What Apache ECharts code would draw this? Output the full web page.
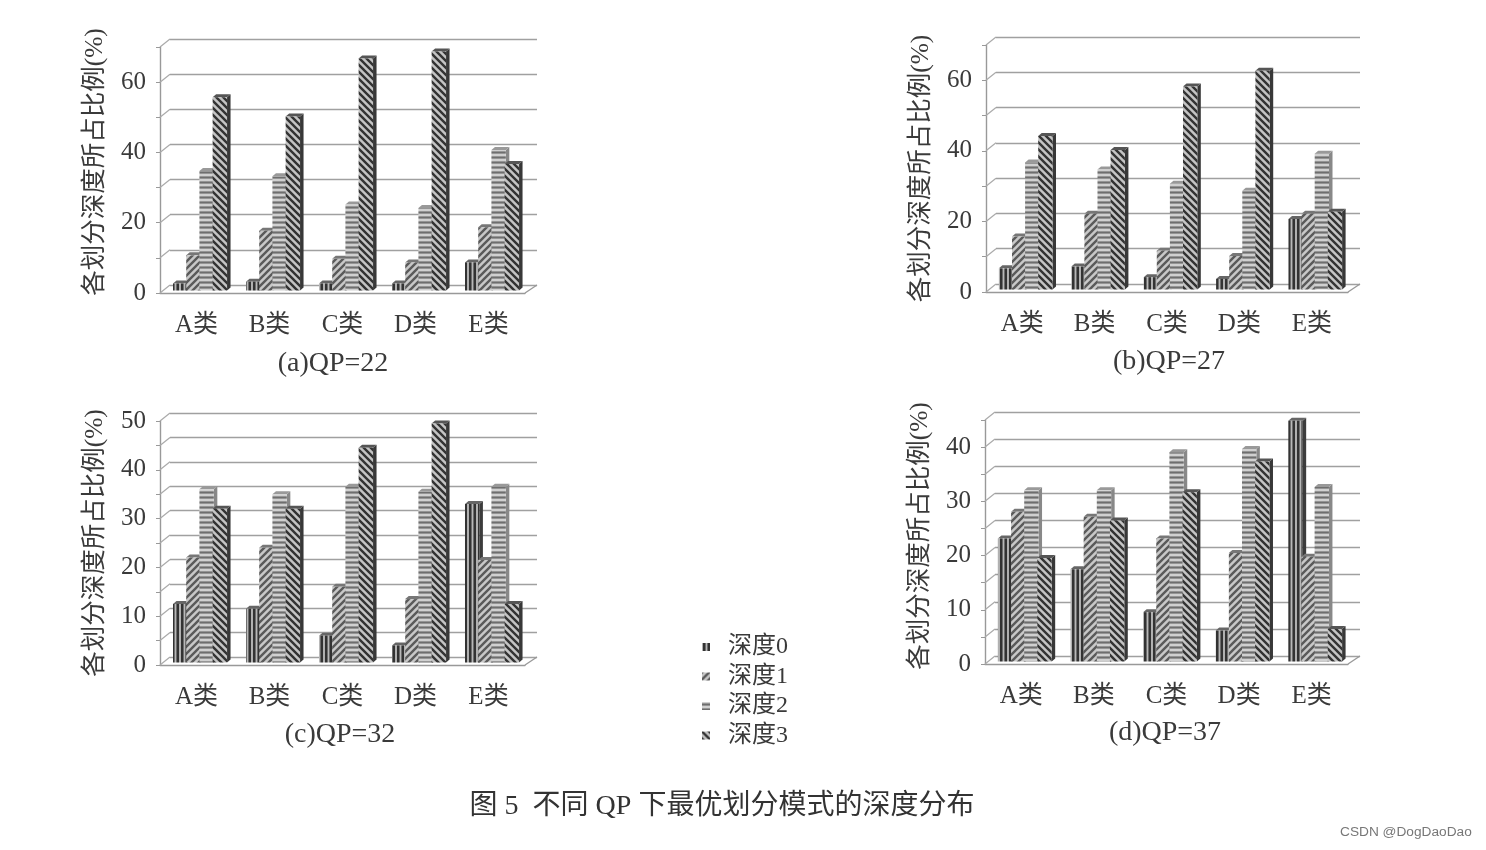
<!DOCTYPE html>
<html><head><meta charset="utf-8"><style>html,body{margin:0;background:#fff}#c{width:1486px;height:850px;filter:blur(0.4px)}</style>
<script src="https://cdn.jsdelivr.net/npm/echarts@6/dist/echarts.min.js"></script></head>
<body><div id="c"></div><script>
const categories=['A类','B类','C类','D类','E类'];
const depths=['深度0','深度1','深度2','深度3'];
const a0=[2,2.5,2,2,8], a1=[10,17,9,8,18], a2=[34,32.5,24.5,23.5,40], a3=[55,49.5,66,68,36];
const b0=[6,6.5,3.5,3,20], b1=[15,21.5,11,9.5,21.5], b2=[36,34,30,28,38.5], b3=[43.5,39.5,57.5,62,22];
const c0=[12,11,5.5,3.5,32.5], c1=[21.5,23.5,15.5,13,21], c2=[35.5,34.5,36,35,36], c3=[31.5,31.5,44,49,12];
const d0=[22.7,17,9.1,5.7,44.4], d1=[27.6,26.7,22.7,20,19.3], d2=[31.6,31.6,38.6,39.2,32.2], d3=[19.1,26,31.2,36.9,6];
const ticksAB=[0,10,20,30,40,50,60,70], ticksC=[0,5,10,15,20,25,30,35,40,45,50], ticksD=[0,5,10,15,20,25,30,35,40,45];
const labelsAB=[0,20,40,60], labelsCD=[0,10,20,30,40,50];
const FONT='"Liberation Serif","Noto Sans CJK SC",serif', INK='#3a3a3a';
const panels=[
 {t:'(a)QP=22',s:[a0,a1,a2,a3],ticks:ticksAB,labels:labelsAB,step:10,max:70,x0:160,x1:525,y0:293,yt:47,tx:333,ty:362,nameShift:16},
 {t:'(b)QP=27',s:[b0,b1,b2,b3],ticks:ticksAB,labels:labelsAB,step:10,max:70,x0:986,x1:1348,y0:292,yt:45,tx:1169,ty:360,nameShift:0},
 {t:'(c)QP=32',s:[c0,c1,c2,c3],ticks:ticksC,labels:labelsCD,step:5,max:50,x0:160,x1:525,y0:665,yt:421,tx:340,ty:733,nameShift:0},
 {t:'(d)QP=37',s:[d0,d1,d2,d3],ticks:ticksD,labels:labelsCD,step:5,max:45,x0:985,x1:1348,y0:664,yt:420,tx:1165,ty:731,nameShift:12}
];
function pat(kind,fg,bg){
 const flat=kind==='h'||kind==='v',S=flat?(kind==='v'?9:5):7,cv=document.createElement('canvas');cv.width=cv.height=S;
 const g=cv.getContext('2d');g.fillStyle=bg;g.fillRect(0,0,S,S);g.strokeStyle=fg;g.lineWidth=flat?(kind==='v'?2.6:2.2):2.4;
 g.beginPath();
 if(kind==='h'){g.moveTo(0,2.5);g.lineTo(S,2.5);}
 if(kind==='v'){g.moveTo(2.25,0);g.lineTo(2.25,S);g.moveTo(6.75,0);g.lineTo(6.75,S);}
 if(kind==='/'){g.moveTo(-2,2);g.lineTo(2,-2);g.moveTo(0,S);g.lineTo(S,0);g.moveTo(S-2,S+2);g.lineTo(S+2,S-2);}
 if(kind==='\\'){g.moveTo(-2,S-2);g.lineTo(2,S+2);g.moveTo(0,0);g.lineTo(S,S);g.moveTo(S-2,-2);g.lineTo(S+2,2);}
 g.stroke();return {image:cv,repeat:'repeat'};
}
const fronts=[pat('v','#333','#b8b8b8'),pat('/','#5a5a5a','#c8c8c8'),pat('h','#6e6e6e','#d0d0d0'),pat('\\','#333','#c4c4c4')];
const sides=['#3c3c3c','#666','#888','#383838'], tops=['#666','#777','#999','#555'];
const DX=3.5,DY=3,BY=2.5;
function barRender(k){return (params,api)=>{
 const i=api.value(0),v=api.value(1),p=api.coord([i,v]),b=api.coord([i,0]),band=api.size([1,0])[0];
 const st=band*0.181,w=st+1.2,left=p[0]-band/2+band*0.178+k*st,y=p[1]-BY,base=b[1]-BY;
 return {type:'group',children:[
  {type:'polygon',shape:{points:[[left+w,y],[left+w+DX,y-DY],[left+w+DX,base-DY],[left+w,base]]},style:{fill:sides[k]}},
  {type:'polygon',shape:{points:[[left,y],[left+DX,y-DY],[left+w+DX,y-DY],[left+w,y]]},style:{fill:tops[k]}},
  {type:'rect',shape:{x:left,y:y,width:w,height:base-y},style:{fill:fronts[k]}}
 ]};
};}
function wallRender(params,api){
 const v=api.value(0),p=api.coord([0,v]),q=api.coord([4,v]),band=api.size([1,0])[0],x=p[0]-band/2,xr=q[0]+band/2;
 const kids=[{type:'line',shape:{x1:x,y1:p[1],x2:x+10,y2:p[1]-8},style:{stroke:'#aaa',lineWidth:1.3}}];
 if(v===0)kids.push({type:'line',shape:{x1:xr,y1:p[1],x2:xr+12,y2:p[1]-8},style:{stroke:'#999',lineWidth:1.3}});
 return {type:'group',children:kids};
}
const grid=[],xAxis=[],yAxis=[],series=[],title=[];
panels.forEach((P,n)=>{
 const h=P.y0-P.yt,w=P.x1-P.x0,gb=n*2,gf=n*2+1;
 grid.push({left:P.x0+10,top:P.yt-8,width:w+2,height:h},{left:P.x0,top:P.yt,width:w,height:h});
 xAxis.push({gridIndex:gb,type:'category',data:categories,show:false});
 yAxis.push({gridIndex:gb,type:'value',min:0,max:P.max,interval:P.step,axisLine:{show:false},axisTick:{show:false},axisLabel:{show:false},splitLine:{show:true,lineStyle:{color:'#a0a0a0',width:1.4}}});
 xAxis.push({gridIndex:gf,type:'category',data:categories,axisLine:{lineStyle:{color:'#999',width:1.4}},axisTick:{length:4,lineStyle:{color:'#999'}},
  axisLabel:{margin:20,fontSize:25,fontFamily:FONT,color:INK}});
 yAxis.push({gridIndex:gf,type:'value',min:0,max:P.max,interval:P.step,name:'各划分深度所占比例(%)',nameLocation:'middle',nameGap:52,
  nameTextStyle:{fontSize:25.5,fontFamily:FONT,color:INK,padding:[0,0,0,P.nameShift]},
  axisLine:{show:true,lineStyle:{color:'#999',width:1.4}},axisTick:{show:true,length:4,lineStyle:{color:'#999'}},splitLine:{show:false},
  axisLabel:{margin:14,fontSize:25,fontFamily:FONT,color:INK,formatter:v=>P.labels.includes(v)?String(v):''}});
 series.push({type:'custom',silent:true,xAxisIndex:gf,yAxisIndex:gf,coordinateSystem:'cartesian2d',data:P.ticks.map(v=>[v]),encode:{y:0},renderItem:wallRender,z:1});
 P.s.forEach((vals,k)=>series.push({name:depths[k],type:'custom',silent:true,xAxisIndex:gf,yAxisIndex:gf,coordinateSystem:'cartesian2d',
  itemStyle:{color:fronts[k]},data:vals.map((v,i)=>[i,v]),encode:{x:0,y:1},renderItem:barRender(k),z:2+k}));
 title.push({text:P.t,left:P.tx,top:P.ty-12,padding:0,textAlign:'center',textStyle:{fontSize:28,fontWeight:'normal',fontFamily:FONT,color:INK}});
});
title.push({text:'图 5  不同 QP 下最优划分模式的深度分布',left:722,top:793,padding:0,textAlign:'center',textStyle:{fontSize:28,fontWeight:'normal',fontFamily:FONT,color:'#333'}});
title.push({text:'CSDN @DogDaoDao',left:1340,top:825,padding:0,textStyle:{fontSize:13.7,fontWeight:'normal',fontFamily:'"Liberation Sans",sans-serif',color:'#777'}});
const chart=echarts.init(document.getElementById('c'),null,{renderer:'canvas'});
chart.setOption({animation:false,backgroundColor:'#fff',tooltip:{show:false},title,grid,xAxis,yAxis,series,
 legend:{orient:'vertical',left:702,top:635,padding:0,itemWidth:8,itemHeight:8,itemGap:5.5,selectedMode:false,
  data:depths.map((d,k)=>({name:d,icon:'rect',itemStyle:{color:fronts[k]}})),
  textStyle:{fontSize:24,fontFamily:FONT,color:INK,padding:[0,0,0,13]}}});
</script></body></html>
